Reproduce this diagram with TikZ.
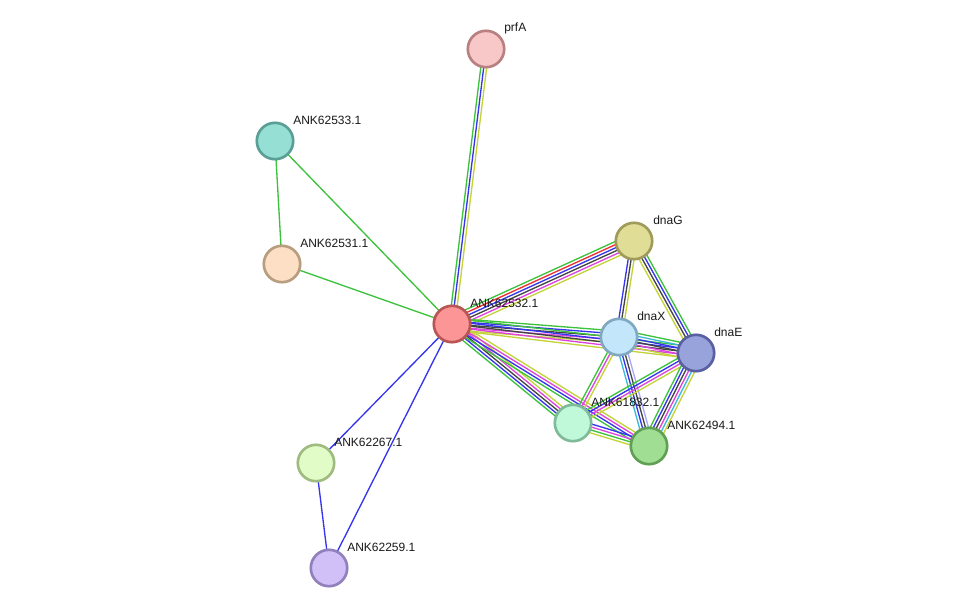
\documentclass[tikz,border=0pt]{standalone}
\usepackage{fontspec}
\setmainfont{Liberation Sans}
\usetikzlibrary{calc}
\pgfdeclarelayer{bg}
\pgfsetlayers{bg,main}
\definecolor{eG}{HTML}{3DC23D}
\definecolor{eB}{HTML}{3535EE}
\definecolor{eR}{HTML}{EE3030}
\definecolor{eK}{HTML}{444444}
\definecolor{eM}{HTML}{DD44DD}
\definecolor{eC}{HTML}{3CB8D8}
\definecolor{eY}{HTML}{C4D438}
\definecolor{eL}{HTML}{A8A8F8}
\newcommand\medge[3]{%
  \foreach \c [count=\i] in {#3} {\xdef\ncount{\i}}%
  \foreach \c [count=\i] in {#3} {%
    \pgfmathsetmacro\off{((\ncount+1)/2-\i)*2.2}%
    \draw[edgeline, \c] ($(#1.center)!\off pt!90:(#2.center)$) -- ($(#2.center)!\off pt!-90:(#1.center)$);
  }}
\begin{document}
\begin{tikzpicture}[x=0.75pt,y=-0.75pt,
  prot/.style={circle, inner sep=0pt, minimum size=27.3pt, line width=2pt},
  lbl/.style={anchor=west, inner sep=0pt, font=\fontsize{9}{10}\selectfont, text=black!90},
  edgeline/.style={line width=1pt}]
\useasboundingbox (0,0) rectangle (975,614);
\node[prot, fill={rgb,255:red,248;green,199;blue,199}, draw={rgb,255:red,184;green,128;blue,128}] (prfA) at (486,49) {};
\node[prot, fill={rgb,255:red,150;green,223;blue,213}, draw={rgb,255:red,90;green,159;blue,150}] (n533) at (275,141) {};
\node[prot, fill={rgb,255:red,253;green,223;blue,197}, draw={rgb,255:red,184;green,157;blue,126}] (n531) at (282,264) {};
\node[prot, fill={rgb,255:red,252;green,150;blue,150}, draw={rgb,255:red,184;green,85;blue,85}] (n532) at (452,324) {};
\node[prot, fill={rgb,255:red,224;green,221;blue,150}, draw={rgb,255:red,160;green,155;blue,90}] (dnaG) at (634,241) {};
\node[prot, fill={rgb,255:red,195;green,230;blue,250}, draw={rgb,255:red,128;green,168;blue,192}] (dnaX) at (619,337) {};
\node[prot, fill={rgb,255:red,152;green,163;blue,220}, draw={rgb,255:red,88;green,96;blue,160}] (dnaE) at (696,353) {};
\node[prot, fill={rgb,255:red,192;green,248;blue,218}, draw={rgb,255:red,128;green,187;blue,153}] (n1832) at (573,423) {};
\node[prot, fill={rgb,255:red,160;green,222;blue,148}, draw={rgb,255:red,96;green,160;blue,85}] (n494) at (649,446) {};
\node[prot, fill={rgb,255:red,225;green,252;blue,198}, draw={rgb,255:red,160;green,187;blue,128}] (n267) at (316,463) {};
\node[prot, fill={rgb,255:red,209;green,192;blue,248}, draw={rgb,255:red,144;green,128;blue,187}] (n259) at (329,568) {};
\node[lbl] (lprfA) at ($(prfA)+(18,-21)$) {prfA};
\node[lbl] (l533) at ($(n533)+(18,-21)$) {ANK62533.1};
\node[lbl] (l531) at ($(n531)+(18,-21)$) {ANK62531.1};
\node[lbl] (l532) at ($(n532)+(18,-21)$) {ANK62532.1};
\node[lbl] (ldnaG) at ($(dnaG)+(19,-21)$) {dnaG};
\node[lbl] (ldnaX) at ($(dnaX)+(18,-21)$) {dnaX};
\node[lbl] (ldnaE) at ($(dnaE)+(18,-21)$) {dnaE};
\node[lbl] (l1832) at ($(n1832)+(18,-21)$) {ANK61832.1};
\node[lbl] (l494) at ($(n494)+(18,-21)$) {ANK62494.1};
\node[lbl] (l267) at ($(n267)+(18,-21)$) {ANK62267.1};
\node[lbl] (l259) at ($(n259)+(18,-21)$) {ANK62259.1};
\begin{pgfonlayer}{bg}
\fill[white] (0,0) rectangle (975,614);
\medge{n532}{prfA}{eG,eB,eY}
\medge{n533}{n532}{eG}
\medge{n533}{n531}{eG}
\medge{n531}{n532}{eG}
\medge{n532}{n267}{eB}
\medge{n532}{n259}{eB}
\medge{n267}{n259}{eB}
\medge{n532}{dnaG}{eG,eR,eB,eK,eM,eY}
\medge{n532}{dnaX}{eG,eB,eK,eM,eY}
\medge{n532}{dnaE}{eG,eB,eK,eM,eY}
\medge{n532}{n1832}{eY,eM,eK,eB,eG}
\medge{n532}{n494}{eY,eM,eB,eG}
\medge{dnaG}{dnaX}{eY,eK,eB}
\medge{dnaG}{dnaE}{eG,eB,eK,eY}
\medge{dnaX}{dnaE}{eG,eC,eB,eK,eM,eY}
\medge{dnaX}{n1832}{eY,eM,eG}
\medge{dnaX}{n494}{eL,eK,eB,eC}
\medge{dnaE}{n1832}{eY,eM,eB,eG}
\medge{dnaE}{n494}{eY,eC,eM,eK,eB,eG}
\medge{n1832}{n494}{eB,eM,eG,eY}
\end{pgfonlayer}
\end{tikzpicture}
\end{document}
